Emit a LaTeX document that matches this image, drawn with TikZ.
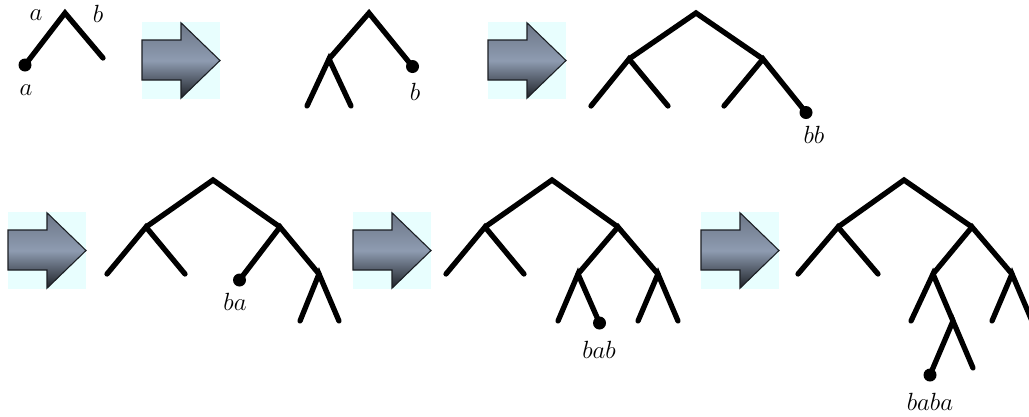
\documentclass[tikz,border=0pt]{standalone}
\tikzset{
  edge/.style={line width=5.3pt,line cap=round,line join=miter},
  leafdot/.style={fill=black,circle,inner sep=0pt,minimum size=13pt},
  lab/.style={anchor=base,inner sep=0pt,font=\fontsize{24}{29}\selectfont},
  boxbg/.style={fill={rgb,255:red,232;green,254;blue,254}},
  arrowbody/.style={draw={rgb,255:red,28;green,31;blue,36},line width=1.1pt,line join=miter,
    top color={rgb,255:red,108;green,118;blue,134},
    bottom color={rgb,255:red,30;green,33;blue,39},
    middle color={rgb,255:red,142;green,156;blue,177}},
  bigarrow/.pic={
    \fill[boxbg] (0,0) rectangle (78,77);
    \draw[arrowbody] (0,18) -- (39,18) -- (39,0.8) -- (78,38.5) -- (39,76.2) -- (39,58) -- (0,58) -- cycle;
  }
}
\begin{document}
\begin{tikzpicture}[x=1pt,y=-1pt]
\useasboundingbox (0,0) rectangle (1029,416);
\clip (0,0) rectangle (1029,416);

% ---------- arrows ----------
\pic at (142,22) {bigarrow};
\pic at (488,22) {bigarrow};
\pic at (8,212) {bigarrow};
\pic at (353,212) {bigarrow};
\pic at (701,212) {bigarrow};

% ---------- tree 1 ----------
\coordinate (t1r) at (65,13);
\coordinate (t1b) at (103,58);
\node[leafdot] (t1a) at (25,65) {};
\draw[edge] (t1a.center) -- (t1r) -- (t1b);
\node[lab] (t1la) at (36,20) {$a$};
\node[lab] (t1lb) at (98,22) {$b$};
\node[lab] (t1lc) at (26,95) {$a$};

% ---------- tree 2 ----------
\coordinate (t2r) at (369,13);
\coordinate (t2L) at (329,59);
\coordinate (t2LL) at (307,106);
\coordinate (t2LR) at (351,106);
\node[leafdot] (t2d) at (412.5,66.5) {};
\draw[edge] (t2L) -- (t2r) -- (t2d.center);
\draw[edge] (t2LL) -- (t2L) -- (t2LR);
\node[lab] (t2lab) at (415,100) {$b$};

% ---------- tree 3 ----------
\coordinate (t3r) at (696,13);
\coordinate (t3L) at (629,59);
\coordinate (t3R) at (763,59);
\coordinate (t3LL) at (591,106);
\coordinate (t3LR) at (668,106);
\coordinate (t3RL) at (724,106);
\node[leafdot] (t3d) at (806,112.5) {};
\draw[edge] (t3L) -- (t3r) -- (t3R);
\draw[edge] (t3LL) -- (t3L) -- (t3LR);
\draw[edge] (t3RL) -- (t3R) -- (t3d.center);
\node[lab] (t3lab) at (814,143) {$bb$};

% ---------- tree 4 ----------
\coordinate (t4r) at (213,180);
\coordinate (t4L) at (146,227);
\coordinate (t4R) at (280,227);
\coordinate (t4LL) at (107,274);
\coordinate (t4LR) at (185,274);
\node[leafdot] (t4d) at (239.5,280) {};
\coordinate (t4RR) at (319,274);
\coordinate (t4RRL) at (300,321);
\coordinate (t4RRR) at (339,321);
\draw[edge] (t4L) -- (t4r) -- (t4R);
\draw[edge] (t4LL) -- (t4L) -- (t4LR);
\draw[edge] (t4d.center) -- (t4R) -- (t4RR);
\draw[edge] (t4RRL) -- (t4RR) -- (t4RRR);
\node[lab] (t4lab) at (235,310) {$ba$};

% ---------- tree 5 ----------
\coordinate (t5r) at (552,180);
\coordinate (t5L) at (485,227);
\coordinate (t5R) at (618,227);
\coordinate (t5LL) at (446,274);
\coordinate (t5LR) at (524,274);
\coordinate (t5RL) at (578,274);
\coordinate (t5RR) at (658,274);
\coordinate (t5RLL) at (558,321);
\node[leafdot] (t5d) at (599.5,323) {};
\coordinate (t5RRL) at (638,321);
\coordinate (t5RRR) at (678,321);
\draw[edge] (t5L) -- (t5r) -- (t5R);
\draw[edge] (t5LL) -- (t5L) -- (t5LR);
\draw[edge] (t5RL) -- (t5R) -- (t5RR);
\draw[edge] (t5RLL) -- (t5RL) -- (t5d.center);
\draw[edge] (t5RRL) -- (t5RR) -- (t5RRR);
\node[lab] (t5lab) at (599,358) {$bab$};

% ---------- tree 6 ----------
\coordinate (t6r) at (904,180);
\coordinate (t6L) at (838,227);
\coordinate (t6R) at (972,227);
\coordinate (t6LL) at (798,274);
\coordinate (t6LR) at (878,274);
\coordinate (t6RL) at (933,274);
\coordinate (t6RR) at (1012,274);
\coordinate (t6RLL) at (911,321);
\coordinate (t6RLR) at (953,321);
\coordinate (t6RRL) at (992,321);
\coordinate (t6RRR) at (1032,321);
\node[leafdot] (t6d) at (930,375) {};
\coordinate (t6RLRR) at (973,368);
\draw[edge] (t6L) -- (t6r) -- (t6R);
\draw[edge] (t6LL) -- (t6L) -- (t6LR);
\draw[edge] (t6RL) -- (t6R) -- (t6RR);
\draw[edge] (t6RLL) -- (t6RL) -- (t6RLR);
\draw[edge] (t6RRL) -- (t6RR) -- (t6RRR);
\draw[edge] (t6d.center) -- (t6RLR) -- (t6RLRR);
\node[lab] (t6lab) at (930,410) {$baba$};
\end{tikzpicture}
\end{document}
